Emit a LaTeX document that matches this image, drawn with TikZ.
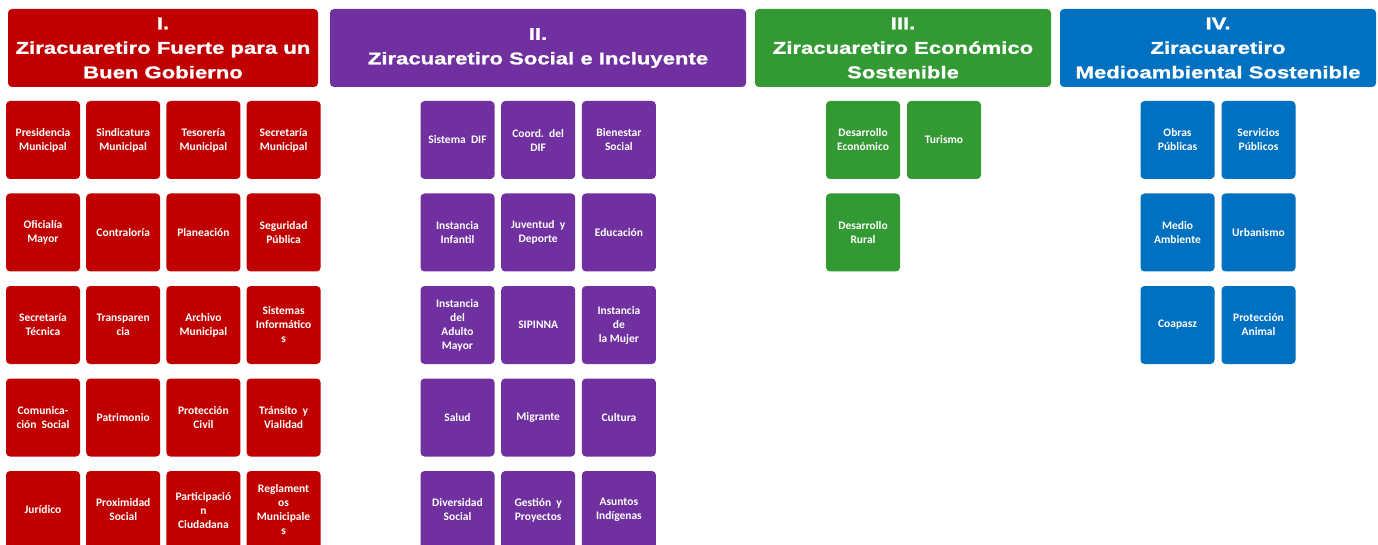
\documentclass[tikz,border=0pt]{standalone}
\usepackage{fontspec}
\setmainfont{Carlito}
\newfontfamily\headfont[FakeStretch=1.3,BoldFont={Liberation Sans Bold},BoldFeatures={FakeBold=1.2}]{Liberation Sans}
\definecolor{gobred}{HTML}{C00000}
\definecolor{socpurple}{HTML}{7030A0}
\definecolor{ecogreen}{HTML}{339933}
\definecolor{ambblue}{HTML}{0070C0}

\begin{document}
\begin{tikzpicture}
[x=1pt,y=-1pt,%
  every node/.style={shape=rectangle,rounded corners=4pt,text=white,align=center},%
  head/.style={minimum height=78pt,inner sep=2pt,font=\headfont\bfseries\fontsize{17}{24.5}\selectfont},%
  area/.style={minimum width=74pt,minimum height=78pt,inner sep=1pt,font=\bfseries\fontsize{11.5}{14}\selectfont}]
\clip (0,0) rectangle (1378,545);
\fill[white] (0,0) rectangle (1378,545);
% ejes
\node[head,fill=gobred,minimum width=310pt] (eje1) at (163,48)
  {I.\\Ziracuaretiro Fuerte para un\\Buen Gobierno};
\node[head,fill=socpurple,minimum width=416pt] (eje2) at (538,48)
  {II.\\Ziracuaretiro Social e Incluyente};
\node[head,fill=ecogreen,minimum width=296pt] (eje3) at (903,48)
  {III.\\Ziracuaretiro Económico\\Sostenible};
\node[head,fill=ambblue,minimum width=316pt] (eje4) at (1218,48)
  {IV.\\Ziracuaretiro\\Medioambiental Sostenible};
% eje I
\foreach \txt [count=\i from 0] in {%
  {Presidencia\\Municipal},{Sindicatura\\Municipal},{Tesorería\\Municipal},{Secretaría\\Municipal},
  {Oficialía\\Mayor},{Contraloría},{Planeación},{Seguridad\\Pública},
  {Secretaría\\Técnica},{Transparen\\cia},{Archivo\\Municipal},{Sistemas\\Informático\\s},
  {Comunica-\\ción~~Social},{Patrimonio},{Protección\\Civil},{Tránsito~~y\\Vialidad},
  {Jurídico},{Proximidad\\Social},{Participació\\n\\Ciudadana},{Reglament\\os\\Municipale\\s}}
{
  \pgfmathsetmacro{\cx}{43+80.2*mod(\i,4)}
  \pgfmathsetmacro{\cy}{140+92.5*int(\i/4)}
  \node[area,fill=gobred] (gob-\i) at (\cx,\cy) {\txt};
}
% eje II
\foreach \txt [count=\i from 0] in {%
  {Sistema~~DIF},{Coord.~~del\\DIF},{Bienestar\\Social},
  {Instancia\\Infantil},{Juventud~~y\\Deporte},{Educación},
  {Instancia\\del\\Adulto\\Mayor},{SIPINNA},{Instancia\\de\\la Mujer},
  {Salud},{Migrante},{Cultura},
  {Diversidad\\Social},{Gestión~~y\\Proyectos},{Asuntos\\Indígenas}}
{
  \pgfmathsetmacro{\cx}{457.5+80.7*mod(\i,3)}
  \pgfmathsetmacro{\cy}{140+92.5*int(\i/3)}
  \node[area,fill=socpurple] (soc-\i) at (\cx,\cy) {\txt};
}
% eje III
\foreach \txt [count=\i from 0] in {%
  {Desarrollo\\Económico},{Turismo},{Desarrollo\\Rural}}
{
  \pgfmathsetmacro{\cx}{863+81*mod(\i,2)}
  \pgfmathsetmacro{\cy}{140+92.5*int(\i/2)}
  \node[area,fill=ecogreen] (eco-\i) at (\cx,\cy) {\txt};
}
% eje IV
\foreach \txt [count=\i from 0] in {%
  {Obras\\Públicas},{Servicios\\Públicos},{Medio\\Ambiente},{Urbanismo},
  {Coapasz},{Protección\\Animal}}
{
  \pgfmathsetmacro{\cx}{1177.5+81*mod(\i,2)}
  \pgfmathsetmacro{\cy}{140+92.5*int(\i/2)}
  \node[area,fill=ambblue] (amb-\i) at (\cx,\cy) {\txt};
}
\end{tikzpicture}
\end{document}
